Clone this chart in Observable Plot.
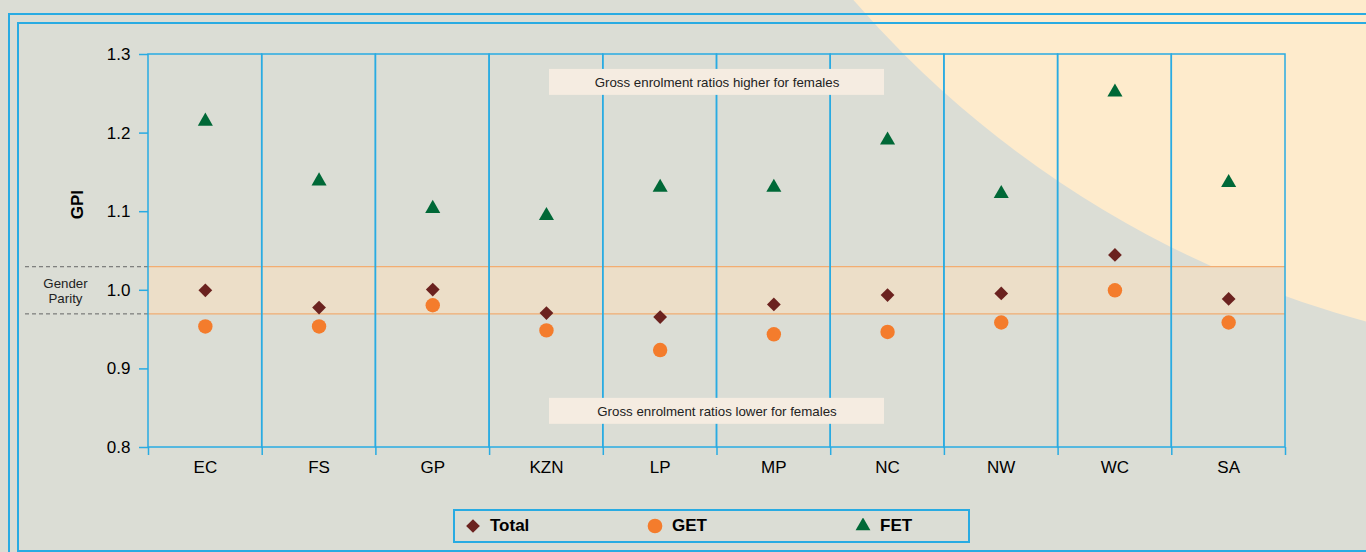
<!DOCTYPE html>
<html><head><meta charset="utf-8">
<script src="https://cdn.jsdelivr.net/npm/d3@7"></script>
<script src="https://cdn.jsdelivr.net/npm/@observablehq/plot@0.6"></script>
<style>
html,body{margin:0;padding:0;}
body{width:1366px;height:552px;overflow:hidden;background:#dbddd5;position:relative;font-family:"Liberation Sans",Arial,sans-serif;}
#bg{position:absolute;left:0;top:0;}
.frame{position:absolute;border:2px solid #29abe2;box-sizing:border-box;}
#chart{position:absolute;left:0;top:0;}
#legend{position:absolute;left:453px;top:509px;width:517px;height:34px;border:2px solid #29abe2;box-sizing:border-box;}
.item{position:absolute;top:0;height:30px;display:flex;align-items:center;font-weight:bold;font-size:17px;color:#000;}
.item svg{margin-right:9px;}
</style>
</head><body>
<svg id="bg" width="1366" height="552"><circle cx="1635" cy="-677" r="1034" fill="#feebcc"/></svg>
<div class="frame" style="left:8px;top:13px;width:1400px;height:600px;"></div>
<div class="frame" style="left:17px;top:22px;width:1400px;height:530px;"></div>
<div id="chart"></div>
<div id="legend"></div>
<script>
const provinces = ["EC","FS","GP","KZN","LP","MP","NC","NW","WC","SA"];
const totalGPI = [1.000,0.978,1.001,0.971,0.966,0.982,0.994,0.996,1.045,0.989];
const getGPI   = [0.954,0.954,0.981,0.949,0.924,0.944,0.947,0.959,1.000,0.959];
const fetGPI   = [1.215,1.139,1.104,1.095,1.131,1.131,1.191,1.123,1.252,1.137];
const yTicks = [0.8,0.9,1.0,1.1,1.2,1.3];
const parityBand = [0.97,1.03];
const notes = ["Gross enrolment ratios higher for females","Gross enrolment ratios lower for females"];
const noteY = [1.2645,0.846];
const seriesNames = ["Total","GET","FET"];
const seriesColors = ["#6b221f","#f47c2c","#006837"];

const W = 1366, H = 500, ML = 148, MR = 81, MT = 54, MB = 53;
const bw = (W - ML - MR) / provinces.length;
const blue = "#29abe2";

const chart = Plot.plot({
  width: W, height: H,
  marginLeft: ML, marginRight: MR, marginTop: MT, marginBottom: MB,
  style: {background: "transparent", fontFamily: "Liberation Sans, Arial, sans-serif", color: "#000"},
  x: {type: "band", domain: provinces, padding: 0, round: false},
  y: {domain: [yTicks[0], yTicks[yTicks.length-1]]},
  marks: [
    Plot.rect([parityBand], {y1: d => d[0], y2: d => d[1], fill: "#ecdec8"}),
    Plot.ruleY(parityBand, {stroke: "#f2ad72", strokeWidth: 1.2}),
    Plot.ruleY(parityBand, {stroke: "#666", strokeDasharray: "4,3", insetLeft: -123, insetRight: W - ML - MR}),
    Plot.rect(provinces, {x: d => d, y1: () => yTicks[0], y2: () => yTicks[yTicks.length-1], stroke: blue, strokeWidth: 1.5, fill: "none"}),
    Plot.ruleX(provinces, {x: d => d, y1: () => yTicks[0], y2: () => yTicks[0], insetBottom: -8, dx: -bw/2, stroke: blue, strokeWidth: 1.5}),
    Plot.ruleX([provinces[provinces.length-1]], {x: d => d, y1: () => yTicks[0], y2: () => yTicks[0], insetBottom: -8, dx: bw/2, stroke: blue, strokeWidth: 1.5}),
    Plot.axisY({ticks: yTicks, tickFormat: d3.format(".1f"), tickSize: 9, tickPadding: 9, stroke: blue, strokeWidth: 1.5, fontSize: 17, label: null}),
    Plot.axisX({tickSize: 0, tickPadding: 13, fontSize: 17, label: null}),
    Plot.rect(notes, {y1: (d,i) => noteY[i] - 0.0165, y2: (d,i) => noteY[i] + 0.0165, fill: "#f5ece1", insetLeft: 401, insetRight: 401}),
    Plot.text(notes, {y: (d,i) => noteY[i], text: d => d, fontSize: 13.3, fill: "#222"}),
    Plot.text(["Gender\nParity"], {y: () => (parityBand[0] + parityBand[1]) / 2, frameAnchor: "left", textAnchor: "middle", dx: -83, fontSize: 13.3, fill: "#222", lineHeight: 1.15}),
    Plot.text(["GPI"], {y: () => 1.1, frameAnchor: "left", textAnchor: "middle", dx: -71, dy: -7, rotate: -90, fontWeight: "bold", fontSize: 17, fill: "#000"}),
    Plot.dot(provinces, {x: d => d, y: (d,i) => fetGPI[i], symbol: "triangle", fill: seriesColors[2], r: 5.6}),
    Plot.dot(provinces, {x: d => d, y: (d,i) => getGPI[i], symbol: "circle", fill: seriesColors[1], r: 7.2}),
    Plot.dot(provinces, {x: d => d, y: (d,i) => totalGPI[i], symbol: "diamond2", fill: seriesColors[0], r: 6.2})
  ]
});
document.getElementById("chart").appendChild(chart);

// legend
const legend = d3.select("#legend");
const legendSymbols = [d3.symbolDiamond2, d3.symbolCircle, d3.symbolTriangle];
const legendSizes = [120, 170, 95];
const legendLeft = [10, 192, 400];
seriesNames.forEach((name, i) => {
  const item = legend.append("div").attr("class", "item").style("left", legendLeft[i] + "px");
  const svg = item.append("svg").attr("width", 16).attr("height", 16);
  svg.append("path").attr("transform", "translate(8,8)")
    .attr("d", d3.symbol(legendSymbols[i], legendSizes[i])()).attr("fill", seriesColors[i]);
  item.append("span").text(name);
});
</script>
</body></html>
